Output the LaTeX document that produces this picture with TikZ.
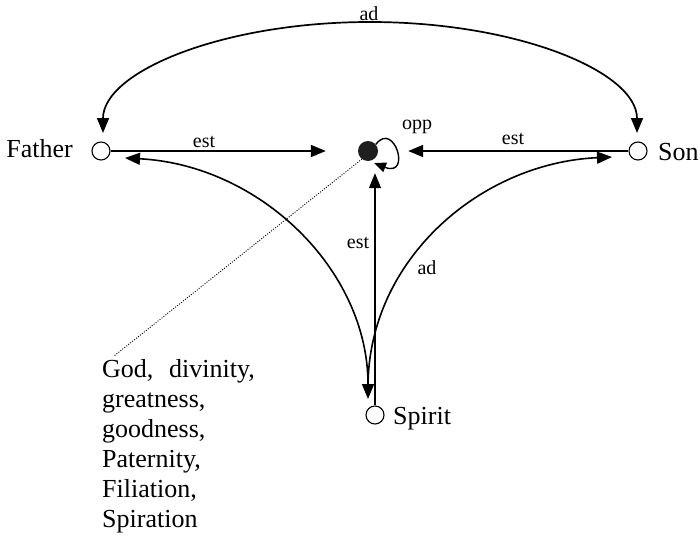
\documentclass[tikz,border=0pt]{standalone}
\usepackage{fontspec}
\setmainfont{Liberation Serif}
\usetikzlibrary{arrows.meta}
\begin{document}
\begin{tikzpicture}[x=1pt,y=-1pt,
  vertex/.style={circle,draw,fill=white,line width=1.1pt,minimum size=18pt,inner sep=0pt},
  hub/.style={circle,fill=black!88,minimum size=20pt,inner sep=0pt},
  rel/.style={line width=1.7pt,-{Triangle[length=15pt,width=12pt]}},
  lbl/.style={font=\fontsize{20}{24}\selectfont,inner sep=1pt},
  ptext/.style={font=\fontsize{26}{30}\selectfont,inner sep=0pt}]
\useasboundingbox (0,0) rectangle (700,538);
% nodes
\node[vertex] (F) at (101,151) {};
\node[vertex] (S) at (638,151) {};
\node[vertex] (P) at (375,415) {};
\node[hub] (G) at (368,151) {};
\node[ptext,anchor=base east] (Ft) at (73,157) {Father};
\node[ptext,anchor=base west] (St) at (658,160) {Son};
\node[ptext,anchor=base west] (Pt) at (393,424) {Spirit};
\node[ptext,anchor=base west,text width=200pt,align=left] (attr) at (102,377)
  {God,\hspace{7pt} divinity,\\greatness,\\goodness,\\Paternity,\\Filiation,\\Spiration};
\coordinate (dend) at (114,356);
% est arrows
\draw[rel,shorten >=32pt] (F) -- (G);
\draw[rel,shorten >=30pt] (S) -- (G);
\draw[rel,line width=1.4pt,shorten >=12pt] (P.north) -- (P.north |- G.south);
\node[lbl] (e1) at (204,142) {est};
\node[lbl] (e2) at (513,139) {est};
\node[lbl] (e3) at (358,243) {est};
% curves to Spirit
\draw[line width=1.6pt,{Triangle[length=15pt,width=12pt]}-{Triangle[length=15pt,width=12pt]}]
  ([shift={(24,7)}]F.center) .. controls (260,165) and (368,270) .. ([shift={(-7,-16)}]P.center);
\draw[line width=1.6pt,{Triangle[length=15pt,width=12pt]}-]
  ([shift={(-26,6)}]S.center) .. controls (480,163) and (368,260) .. ([shift={(-7,-28)}]P.center);
\node[lbl] (a2) at (427,268) {ad};
% top arc
\draw[line width=1.7pt,{Triangle[length=15pt,width=12pt]}-{Triangle[length=15pt,width=12pt]}]
  ([shift={(2,-18)}]F.center) arc[start angle=180,end angle=0,x radius=267pt,y radius=111pt];
\node[lbl,anchor=south] (a1) at (369,22) {ad};
% opp loop
\draw[line width=1.4pt,-{Triangle[length=12pt,width=10pt]}]
  (G.40) .. controls (394,120) and (412,178) .. ([shift={(6,12)}]G.center);
\node[lbl] (o1) at (417,127) {opp};
% dotted pointer
\draw[line width=0.9pt,dash pattern=on 1pt off 1.5pt] ([shift={(-6,8)}]G.center) -- (dend);
\end{tikzpicture}
\end{document}
